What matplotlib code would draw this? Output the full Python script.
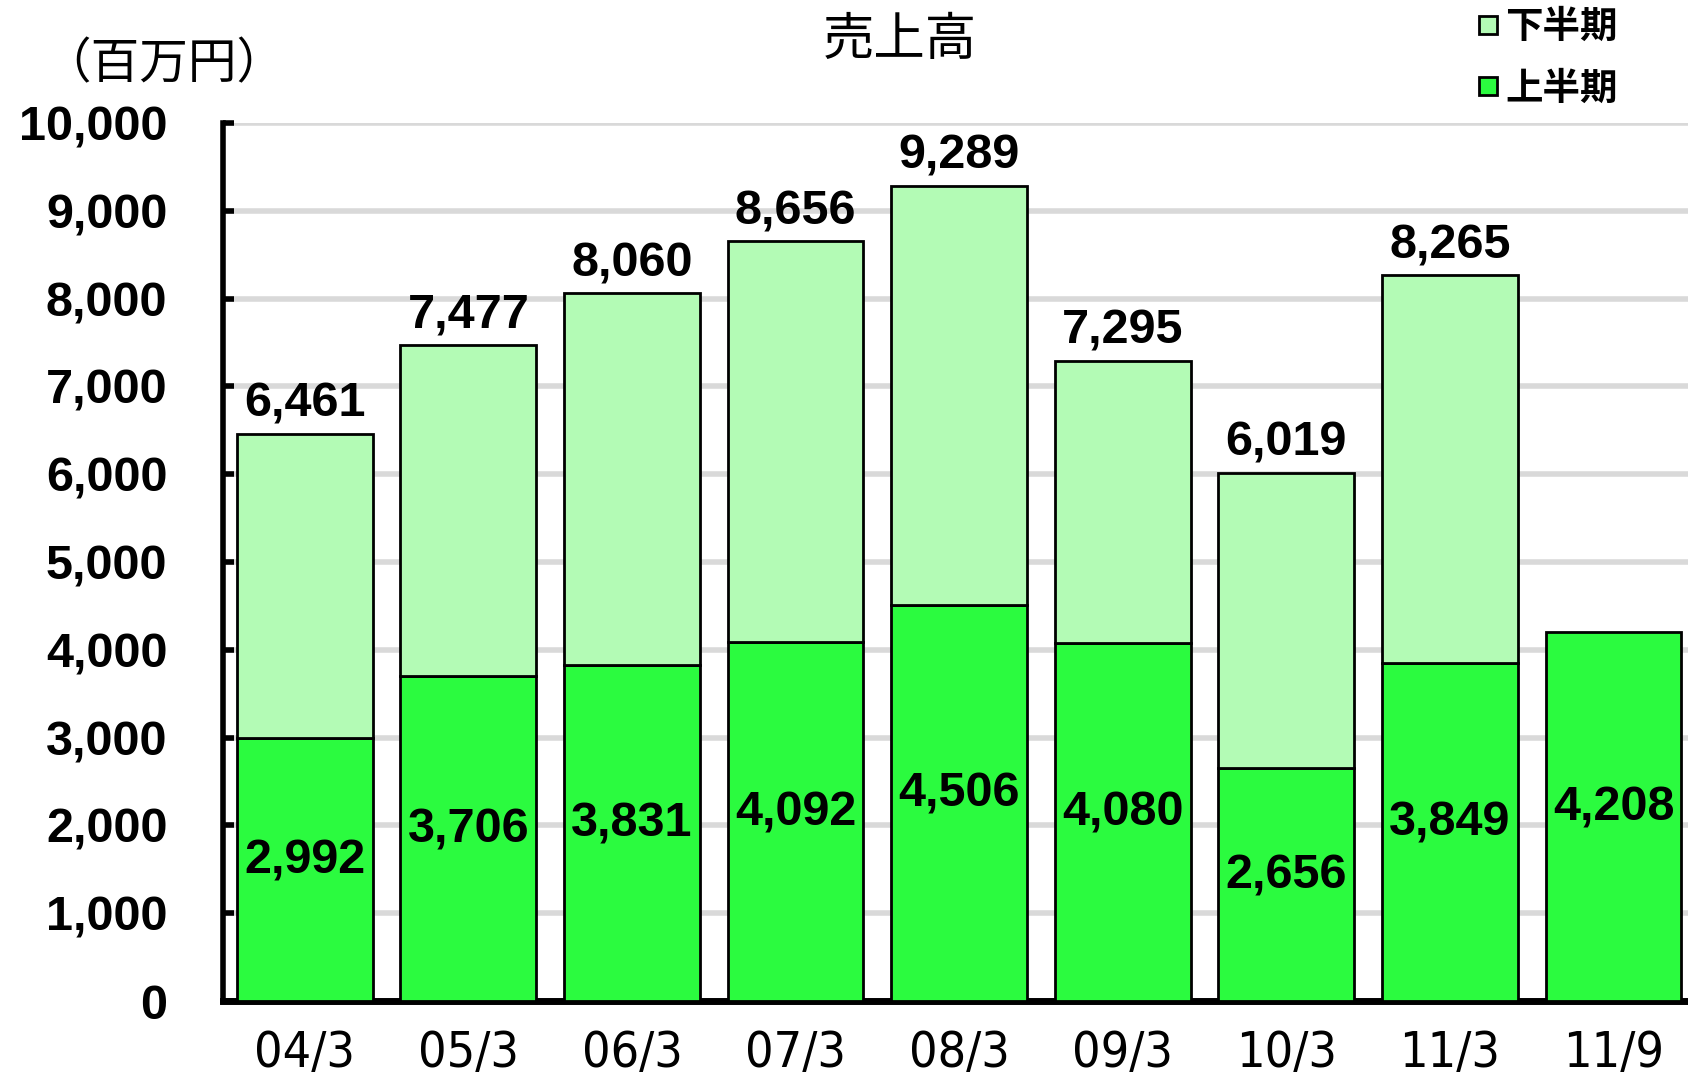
import numpy as np
import matplotlib
matplotlib.use("Agg")
import matplotlib.pyplot as plt
from matplotlib.lines import Line2D

periods = ["04/3", "05/3", "06/3", "07/3", "08/3", "09/3", "10/3", "11/3", "11/9"]
first_half = [2992, 3706, 3831, 4092, 4506, 4080, 2656, 3849, 4208]
totals = [6461, 7477, 8060, 8656, 9289, 7295, 6019, 8265, None]

second_half = [t - f if t is not None else 0 for t, f in zip(totals, first_half)]

light = "#b3fbb5"
bright = "#2bfb3f"
cjk = ["Noto Sans CJK JP", "DejaVu Sans"]

fig = plt.figure(figsize=(16.88, 10.75), dpi=100)
ax = fig.add_axes([0.1321, 0.0688, 0.8679, 0.8167])

x = np.arange(len(periods))
w = 0.83
ax.bar(x, first_half, w, color=bright, edgecolor="black", linewidth=2, zorder=3)
ax.bar(x[:-1], second_half[:-1], w, bottom=first_half[:-1], color=light,
       edgecolor="black", linewidth=2, zorder=3)

for xi, f, t in zip(x, first_half, totals):
    ax.text(xi, f / 2 + 100, f"{f:,}", ha="center", va="center",
            fontsize=35, fontweight="bold", family="Liberation Sans", zorder=4)
    if t is not None:
        ax.text(xi, t + 80, f"{t:,}", ha="center", va="bottom",
                fontsize=35, fontweight="bold", family="Liberation Sans", zorder=4)

ax.set_xlim(-0.5, 8.455)
ax.set_ylim(0, 10000)
ax.set_yticks(np.arange(0, 10001, 1000))
ax.set_yticklabels([f"{v:,}" for v in range(0, 10001, 1000)],
                   fontsize=35, fontweight="bold", family="Liberation Sans")
ax.set_xticks(x)
ax.set_xticklabels(periods, fontsize=36, family="DejaVu Sans", stretch="condensed")

ax.yaxis.grid(True, color="#d9d9d9", linewidth=4, zorder=0)
ax.set_axisbelow(True)
for s in ["top", "right"]:
    ax.spines[s].set_visible(False)
ax.spines["left"].set_linewidth(4)
ax.spines["bottom"].set_linewidth(5)
ax.tick_params(axis="y", direction="in", length=8, width=4, pad=40)
ax.tick_params(axis="x", length=0, pad=20)

fig.text(0.533, 0.963, "売上高", ha="center", va="center", fontsize=37, family=cjk)
fig.text(0.097, 0.94, "（百万円）", ha="center", va="center", fontsize=35, family=cjk)

handles = [
    Line2D([], [], marker="s", linestyle="none", markersize=13,
           markerfacecolor=light, markeredgecolor="black", markeredgewidth=2),
    Line2D([], [], marker="s", linestyle="none", markersize=13,
           markerfacecolor=bright, markeredgecolor="black", markeredgewidth=2),
]
fig.legend(handles, ["下半期", "上半期"], loc="upper left", bbox_to_anchor=(0.855, 1.025),
           frameon=False, handlelength=0.6, handletextpad=0.15, labelspacing=0.6,
           prop={"family": cjk, "weight": "bold", "size": 27})

fig.savefig("out.png", dpi=100)
